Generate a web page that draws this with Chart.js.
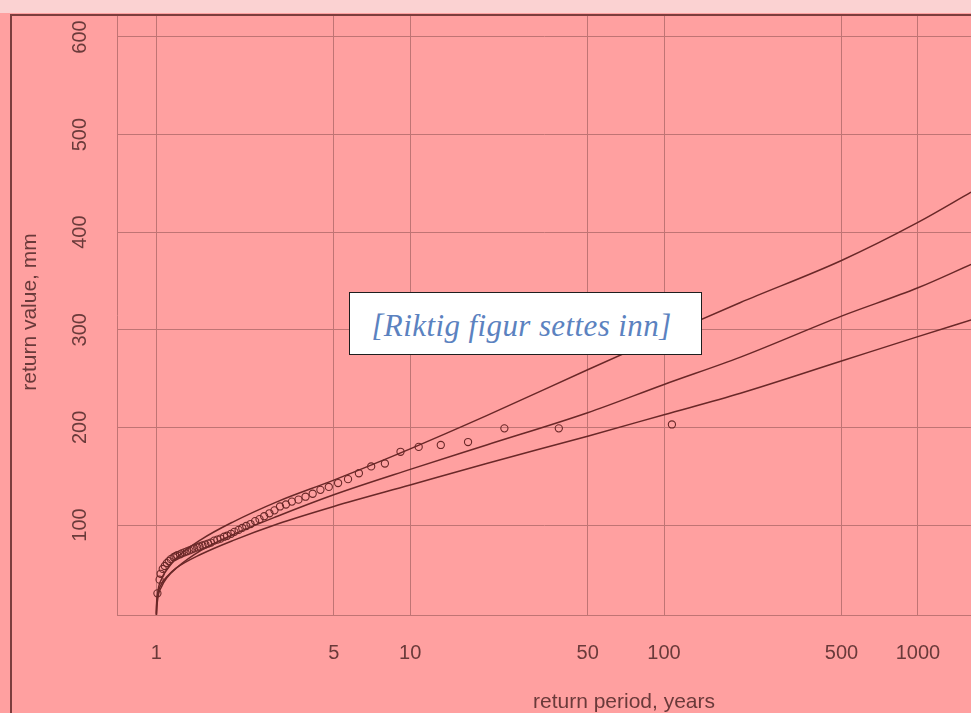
<!DOCTYPE html>
<html>
<head>
<meta charset="utf-8">
<script src="https://cdn.jsdelivr.net/npm/chart.js@4/dist/chart.umd.min.js"></script>
<style>
  html, body { margin: 0; padding: 0; background: #ffa0a0; }
  #wrap { position: relative; width: 971px; height: 713px; overflow: hidden; }
  #note {
    position: absolute; left: 349px; top: 292px; width: 351px; height: 61px;
    background: #fff; border: 1.5px solid #1e1e1e;
    display: flex; align-items: center; justify-content: center;
    box-sizing: content-box; padding-right: 0;
    font-family: "Liberation Serif", "DejaVu Serif", serif; font-style: italic;
    font-size: 31px; letter-spacing: 0.4px; color: #5b82c0;
  }
  #note span { position: relative; left: -4px; top: 2px; }
</style>
</head>
<body>
<div id="wrap">
  <canvas id="rpChart" width="976" height="713"></canvas>
  <div id="note"><span>[Riktig figur settes inn]</span></div>
</div>
<script>
// fitted curves, sampled along return period
const curvePeriods = [1.0002, 1.001, 1.01, 1.05, 1.1, 1.2, 1.5, 2, 3, 5, 10, 20, 50, 100, 200, 500, 1000, 1620];
const upperCurve  = [8, 12, 28, 45, 54, 66, 85, 103, 124, 146, 178, 212, 259, 294, 328, 371, 410, 441];
const middleCurve = [5, 8, 22, 37, 46, 56, 74, 90, 109, 131, 157, 182, 215, 244, 272, 314, 343, 367];
const lowerCurve  = [9, 15, 27, 40, 47, 56, 70, 84, 101, 119, 141, 163, 191, 213, 235, 268, 293, 310];

// observed annual maxima (plotting positions)
const obsPeriods = [107.4, 38.5, 23.5, 16.9, 13.2, 10.8, 9.16, 7.95, 7.02, 6.28,
  5.69, 5.20, 4.78, 4.43, 4.13, 3.87, 3.63, 3.42, 3.24, 3.07,
  2.92, 2.79, 2.66, 2.55, 2.45, 2.35, 2.26, 2.18, 2.11, 2.03,
  1.97, 1.90, 1.85, 1.79, 1.74, 1.69, 1.64, 1.60, 1.56, 1.52,
  1.48, 1.45, 1.41, 1.38, 1.35, 1.32, 1.29, 1.26, 1.24, 1.21,
  1.19, 1.17, 1.14, 1.12, 1.10, 1.08, 1.06, 1.04, 1.03, 1.01];
const obsValues = [203, 199, 199, 185, 182, 180, 175, 163, 160, 153,
  147, 143, 139, 136, 132, 129, 126, 124, 121, 119,
  115, 112, 109, 106, 104, 101, 99, 97, 95, 93,
  91, 89, 88, 86, 85, 84, 82, 81, 80, 79,
  78, 77, 76, 75, 74, 73, 72, 71, 70, 69,
  68, 67, 65, 63, 61, 58, 55, 50, 44, 30];

const xTicks = [1, 5, 10, 50, 100, 500, 1000];
const yTicks = [100, 200, 300, 400, 500, 600];

const textColor = '#6a3a3a';
const gridColor = '#c07474';
const lineColor = '#6a2828';
const fontFamily = '"Liberation Sans", Arial, sans-serif';

const toXY = (xs, ys) => xs.map((x, i) => ({ x: x, y: ys[i] }));

const curve = (vals) => ({
  type: 'line',
  data: toXY(curvePeriods, vals),
  borderColor: lineColor,
  borderWidth: 1.5,
  pointRadius: 0,
  fill: false,
  cubicInterpolationMode: 'monotone'
});

// page frame + rotated labels and axis titles
const decor = {
  id: 'decor',
  beforeDraw(chart) {
    const ctx = chart.ctx;
    ctx.save();
    ctx.fillStyle = '#ffa0a0';
    ctx.fillRect(0, 0, chart.width, chart.height);
    ctx.fillStyle = '#fbd2d2';
    ctx.fillRect(0, 0, chart.width, 13);
    ctx.restore();
  },
  afterDraw(chart) {
    const { ctx, chartArea, scales } = chart;
    ctx.save();
    ctx.strokeStyle = '#7c3d3d';
    ctx.lineWidth = 2;
    ctx.beginPath();
    ctx.moveTo(11, chart.height);
    ctx.lineTo(11, 15);
    ctx.lineTo(chart.width, 15);
    ctx.stroke();

    ctx.fillStyle = textColor;
    ctx.font = '20px ' + fontFamily;
    ctx.textAlign = 'center';
    ctx.textBaseline = 'middle';
    yTicks.forEach(v => {
      ctx.save();
      ctx.translate(chartArea.left - 37, scales.y.getPixelForValue(v));
      ctx.rotate(-Math.PI / 2);
      ctx.fillText(String(v), 0, 0);
      ctx.restore();
    });

    ctx.font = '21px ' + fontFamily;
    ctx.save();
    ctx.translate(30, 312);
    ctx.rotate(-Math.PI / 2);
    ctx.fillText('return value, mm', 0, 0);
    ctx.restore();
    ctx.fillText('return period, years', 624, 702);
    ctx.restore();
  }
};

new Chart(document.getElementById('rpChart'), {
  type: 'scatter',
  data: {
    datasets: [
      curve(upperCurve),
      curve(middleCurve),
      curve(lowerCurve),
      {
        type: 'scatter',
        data: toXY(obsPeriods, obsValues),
        pointStyle: 'circle',
        pointRadius: 3.6,
        borderWidth: 1.1,
        borderColor: lineColor,
        backgroundColor: 'rgba(0,0,0,0)'
      }
    ]
  },
  options: {
    responsive: false,
    animation: false,
    layout: { padding: { left: 117, top: 15, right: 0, bottom: 22 } },
    plugins: { legend: { display: false }, tooltip: { enabled: false } },
    scales: {
      x: {
        type: 'logarithmic',
        min: 0.709,
        max: 1617,
        afterBuildTicks: s => { s.ticks = xTicks.map(v => ({ value: v })); },
        grid: { color: gridColor, lineWidth: 1, drawTicks: false },
        border: { color: gridColor, width: 1 },
        ticks: {
          color: textColor,
          font: { size: 20, family: fontFamily },
          padding: 26,
          autoSkip: false,
          maxRotation: 0,
          callback: v => String(v)
        }
      },
      y: {
        min: 7.8,
        max: 622.5,
        afterBuildTicks: s => { s.ticks = yTicks.map(v => ({ value: v })); },
        grid: { color: gridColor, lineWidth: 1, drawTicks: false },
        border: { color: gridColor, width: 1 },
        ticks: { display: false }
      }
    }
  },
  plugins: [decor]
});
</script>
</body>
</html>
